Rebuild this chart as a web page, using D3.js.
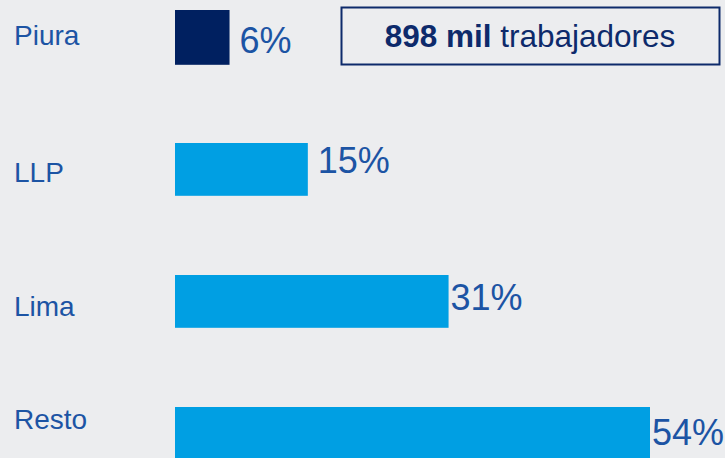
<!DOCTYPE html>
<html>
<head>
<meta charset="utf-8">
<script src="https://cdn.jsdelivr.net/npm/d3@7"></script>
<style>
  html, body { margin: 0; padding: 0; background: #ECEDEF; }
  svg { display: block; font-family: "Liberation Sans", Arial, sans-serif; }
</style>
</head>
<body>
<div id="chart"></div>
<script>
// data
const regions = ["Piura", "LLP", "Lima", "Resto"];
const shares = [6.2, 15.1, 31.1, 54.0];
const barColors = ["#002060", "#009FE3", "#009FE3", "#009FE3"];
const totalBold = "898 mil";
const totalText = " trabajadores";

const width = 725, height = 458;

let svg = d3.select("#chart").append("svg")
    .attr("width", width)
    .attr("height", height);

svg.append("rect")
    .attr("width", width)
    .attr("height", height)
    .style("fill", "#ECEDEF");

let x = d3.scaleLinear().domain([0, 54]).range([175, 650]);
let y = d3.scaleBand().domain(regions).range([11, 459.8])
    .paddingInner(0.6).paddingOuter(0);

// small per-row tweaks to match the original text placement
const catDy = [7.6, 12.3, 14.6, -4.4];
const valDy = [15.6, 3.6, 8.6, 11.6];
const valGap = [10, 10, 2, 2];

let rows = regions.map((r, i) => ({ region: r, value: shares[i], color: barColors[i], i: i }));

let bars = svg.append("g").attr("id", "bars")
    .selectAll("g").data(rows).enter().append("g");

bars.append("rect")
    .attr("x", x(0))
    .attr("y", d => y(d.region) - (d.i === 0 ? 1 : 0))
    .attr("width", d => x(d.value) - x(0))
    .attr("height", d => y.bandwidth() + (d.i === 0 ? 2 : 0))
    .style("fill", d => d.color);

bars.append("text")
    .attr("x", 14)
    .attr("y", d => y(d.region) + y.bandwidth() / 2 + catDy[d.i])
    .style("font-size", "28px")
    .style("fill", "#1C54A4")
    .text(d => d.region);

bars.append("text")
    .attr("x", d => x(d.value) + valGap[d.i])
    .attr("y", d => y(d.region) + y.bandwidth() / 2 + valDy[d.i])
    .style("font-size", "36px")
    .style("fill", "#1C54A4")
    .text(d => d3.format(".0f")(d.value) + "%");

// total box
let box = svg.append("g").attr("id", "total_box");
box.append("rect")
    .attr("x", 341.5)
    .attr("y", 7.5)
    .attr("width", 378)
    .attr("height", 57)
    .style("fill", "none")
    .style("stroke", "#0D2A6B")
    .style("stroke-width", 2);

let t = box.append("text")
    .attr("x", 530)
    .attr("y", 47)
    .attr("text-anchor", "middle")
    .style("font-size", "31.5px")
    .style("fill", "#0D2A6B");
t.append("tspan").style("font-weight", "bold").text(totalBold);
t.append("tspan").attr("xml:space", "preserve").text(totalText);
</script>
</body>
</html>
